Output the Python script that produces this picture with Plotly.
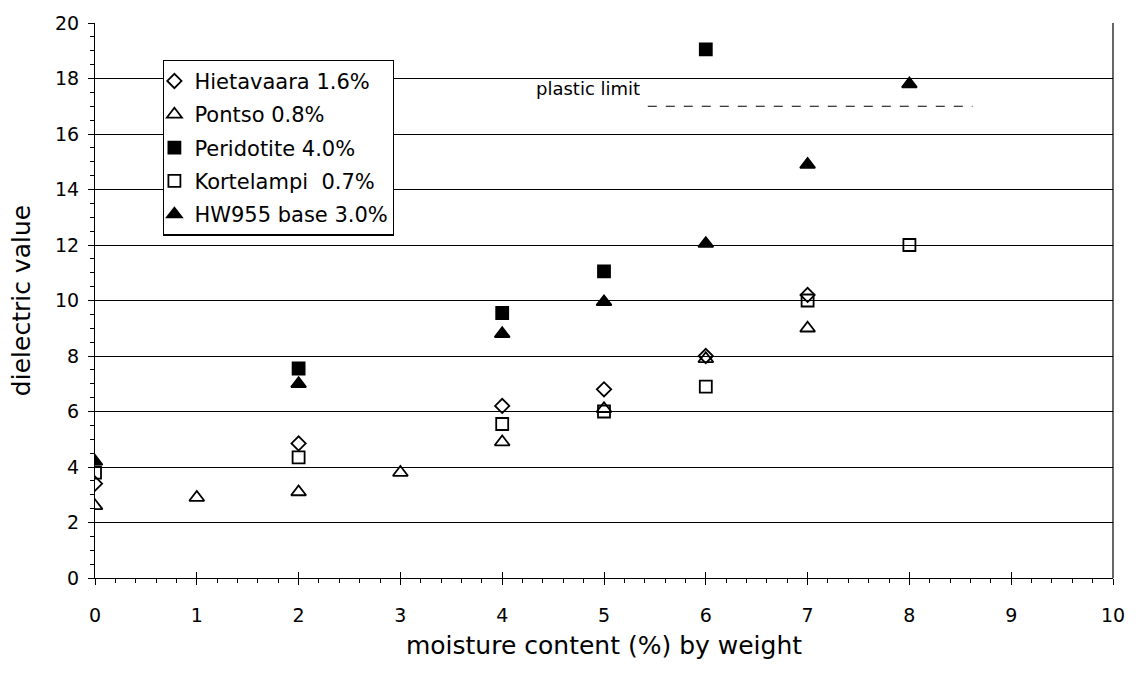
import plotly.graph_objects as go

# Moisture content (% by weight) and measured dielectric values per material
hieta_x = [0, 2, 4, 5, 6, 7]
hieta_y = [3.4, 4.85, 6.2, 6.8, 8.0, 10.2]

pontso_x = [0, 1, 2, 3, 4, 5, 6, 7]
pontso_y = [2.6, 2.9, 3.1, 3.8, 4.9, 6.1, 7.9, 9.0]

perid_x = [2, 4, 5, 6]
perid_y = [7.55, 9.55, 11.05, 19.05]

kortel_x = [0, 2, 4, 5, 6, 7, 8]
kortel_y = [3.8, 4.35, 5.55, 6.0, 6.9, 10.0, 12.0]

hw_x = [0, 2, 4, 5, 6, 7, 8]
hw_y = [4.2, 7.0, 8.8, 9.95, 12.05, 14.9, 17.8]

plastic_limit_x = [5.43, 8.62]
plastic_limit_y = [17.0, 17.0]

FONT = "DejaVu Sans, Verdana, sans-serif"

series = [
    ("Hietavaara 1.6%", hieta_x, hieta_y, "diamond-open", 11),
    ("Pontso 0.8%", pontso_x, pontso_y, "triangle-up-open", 13),
    ("Peridotite 4.0%", perid_x, perid_y, "square", 12),
    ("Kortelampi  0.7%", kortel_x, kortel_y, "square-open", 12),
    ("HW955 base 3.0%", hw_x, hw_y, "triangle-up", 13),
]

fig = go.Figure()

fig.add_trace(go.Scatter(
    x=plastic_limit_x, y=plastic_limit_y, mode="lines",
    line=dict(color="black", width=1.2, dash="dash"),
    showlegend=False, hoverinfo="skip",
))

for i, (name, xs, ys, sym, size) in enumerate(series):
    fig.add_trace(go.Scatter(
        x=xs, y=ys, mode="markers", name=name, legendgroup=f"g{i}",
        marker=dict(symbol=sym, size=size, color="black",
                    line=dict(color="black", width=1.8)),
    ))

fig.add_annotation(x=4.84, y=17.65, text="plastic limit", showarrow=False,
                   font=dict(family=FONT, size=18, color="black"))

axis_common = dict(showline=True, linecolor="black", linewidth=1.2,
                   tickcolor="black", zeroline=False)

fig.update_layout(
    width=1143, height=678,
    margin=dict(l=95, r=30, t=19, b=100),
    paper_bgcolor="white", plot_bgcolor="white",
    font=dict(family=FONT, color="black"),
    xaxis=dict(range=[0, 10], dtick=1, ticks="outside", ticklen=6, tickwidth=1.2,
               showgrid=False, mirror=False, ticklabelstandoff=14,
               tickfont=dict(family=FONT, size=19, color="black"),
               minor=dict(dtick=0.2, ticks="outside", ticklen=4, tickcolor="black", showgrid=False),
               title=dict(text="moisture content (%) by weight",
                          font=dict(family=FONT, size=25, color="black"), standoff=11),
               **axis_common),
    yaxis=dict(range=[0, 20], dtick=2, ticks="outside", ticklen=6, tickwidth=1.2,
               showgrid=True, gridcolor="black", gridwidth=1, ticklabelstandoff=5,
               tickfont=dict(family=FONT, size=19, color="black"),
               minor=dict(dtick=0.5, ticks="outside", ticklen=4, tickcolor="black", showgrid=False),
               title=dict(text="dielectric value",
                          font=dict(family=FONT, size=25, color="black"), standoff=17),
               **axis_common),
    xaxis2=dict(overlaying="x", matches="x", range=[0, 10], dtick=1, ticks="inside",
                ticklen=6, tickwidth=1.2, tickcolor="black", showticklabels=False,
                showgrid=False, zeroline=False, side="bottom", anchor="y"),
    yaxis2=dict(overlaying="y", matches="y", range=[0, 20], dtick=2, ticks="inside",
                ticklen=6, tickwidth=1.2, tickcolor="black", showticklabels=False,
                showgrid=False, zeroline=False, side="left", anchor="x"),
    legend=dict(x=0.067, y=0.934, xanchor="left", yanchor="top",
                bordercolor="black", borderwidth=1.2, bgcolor="white",
                font=dict(family=FONT, size=21, color="black"),
                tracegroupgap=3, itemwidth=30, indentation=-10),
    shapes=[dict(type="line", xref="paper", yref="paper", x0=1, x1=1, y0=0, y1=1,
                 line=dict(color="black", width=1.2))],
)

# invisible trace so the inside-tick overlay axes are rendered
fig.add_trace(go.Scatter(x=[0], y=[0], xaxis="x2", yaxis="y2", mode="markers",
                         marker=dict(opacity=0), showlegend=False, hoverinfo="skip"))

fig.write_html("out.html")
